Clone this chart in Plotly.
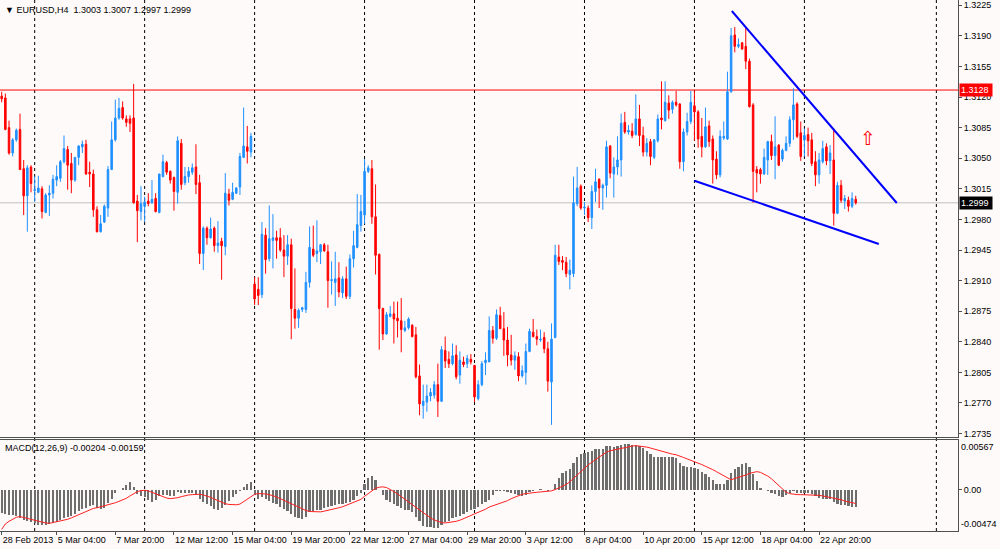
import plotly.graph_objects as go

# ---------------- data (EURUSD H4) ----------------
open_ = [1.3121,1.3119,1.3085,1.3056,1.3071,1.3083,1.3038,1.3007,1.3040,1.3013,
 1.3011,1.3015,1.2988,1.3008,1.3010,1.3025,1.3027,1.3046,1.3060,1.3044,
 1.3025,1.3051,1.3063,1.3066,1.3034,1.3032,1.2991,1.2966,1.2977,1.2993,
 1.3037,1.3071,1.3096,1.3108,1.3095,1.3095,1.3096,1.3001,1.2989,1.2995,
 1.3001,1.2999,1.3004,1.2988,1.3029,1.3045,1.3035,1.3028,1.3011,1.3067,
 1.3022,1.3029,1.3034,1.3040,1.3022,1.2941,1.2970,1.2959,1.2970,1.2950,
 1.2955,1.2949,1.3009,1.3003,1.3010,1.3017,1.3051,1.3063,1.3057,1.2906,
 1.2900,1.2894,1.2962,1.2935,1.2956,1.2959,1.2959,1.2945,1.2938,1.2951,
 1.2877,1.2867,1.2877,1.2877,1.2908,1.2946,1.2941,1.2943,1.2951,1.2943,
 1.2910,1.2908,1.2913,1.2896,1.2912,1.2892,1.2935,1.2948,1.2973,1.2985,
 1.3035,1.3038,1.2983,1.2940,1.2878,1.2849,1.2869,1.2872,1.2867,1.2864,
 1.2853,1.2856,1.2859,1.2848,1.2801,1.2767,1.2771,1.2778,1.2779,1.2791,
 1.2772,1.2830,1.2820,1.2815,1.2825,1.2802,1.2817,1.2815,1.2820,1.2813,
 1.2775,1.2791,1.2816,1.2817,1.2853,1.2844,1.2870,1.2855,1.2842,1.2825,
 1.2819,1.2823,1.2801,1.2805,1.2829,1.2851,1.2846,1.2842,1.2845,1.2832,
 1.2794,1.2845,1.2937,1.2933,1.2931,1.2917,1.2918,1.2998,1.3018,1.2993,
 1.2993,1.2982,1.3012,1.3026,1.3016,1.3019,1.3064,1.3032,1.3040,1.3048,
 1.3091,1.3080,1.3081,1.3077,1.3095,1.3076,1.3057,1.3069,1.3051,1.3070,
 1.3096,1.3093,1.3113,1.3106,1.3114,1.3112,1.3046,1.3080,1.3092,1.3110,
 1.3103,1.3075,1.3063,1.3087,1.3072,1.3049,1.3031,1.3073,1.3072,1.3126,
 1.3191,1.3178,1.3182,1.3178,1.3161,1.3111,1.3037,1.3037,1.3032,1.3048,
 1.3069,1.3053,1.3065,1.3049,1.3059,1.3067,1.3094,1.3112,1.3079,1.3071,
 1.3077,1.3071,1.3046,1.3031,1.3046,1.3063,1.3047,1.3048,1.2987,1.3019,
 1.3001,1.3002,1.2995,1.3003]
high = [1.3126,1.3124,1.3093,1.3073,1.3084,1.3101,1.3048,1.3042,1.3042,1.3029,
 1.3030,1.3018,1.3010,1.3019,1.3031,1.3042,1.3048,1.3076,1.3064,1.3056,
 1.3051,1.3065,1.3070,1.3071,1.3046,1.3037,1.2995,1.2985,1.2997,1.3041,
 1.3092,1.3117,1.3119,1.3115,1.3099,1.3099,1.3135,1.3008,1.3018,1.3006,
 1.3010,1.3025,1.3010,1.3032,1.3054,1.3047,1.3036,1.3029,1.3075,1.3072,
 1.3040,1.3040,1.3044,1.3066,1.3031,1.2972,1.2972,1.2982,1.2972,1.2978,
 1.2959,1.3033,1.3015,1.3022,1.3017,1.3056,1.3108,1.3087,1.3079,1.2914,
 1.2914,1.2977,1.2970,1.2996,1.2986,1.2967,1.2970,1.2962,1.2962,1.2958,
 1.2924,1.2878,1.2880,1.2920,1.2972,1.2973,1.2979,1.2952,1.2953,1.2951,
 1.2932,1.2943,1.2931,1.2915,1.2926,1.2940,1.2967,1.3009,1.3008,1.3049,
 1.3042,1.3048,1.3020,1.2941,1.2879,1.2874,1.2881,1.2886,1.2886,1.2890,
 1.2864,1.2868,1.2860,1.2857,1.2814,1.2791,1.2791,1.2787,1.2795,1.2815,
 1.2835,1.2846,1.2829,1.2838,1.2836,1.2829,1.2823,1.2825,1.2826,1.2813,
 1.2796,1.2818,1.2828,1.2869,1.2858,1.2877,1.2880,1.2874,1.2857,1.2848,
 1.2829,1.2828,1.2813,1.2838,1.2855,1.2866,1.2854,1.2854,1.2851,1.2840,
 1.2861,1.2951,1.2951,1.2938,1.2937,1.2934,1.3029,1.3040,1.3020,1.3000,
 1.2996,1.3019,1.3038,1.3027,1.3021,1.3070,1.3065,1.3051,1.3075,1.3101,
 1.3103,1.3088,1.3090,1.3123,1.3111,1.3086,1.3073,1.3072,1.3072,1.3100,
 1.3138,1.3138,1.3122,1.3116,1.3127,1.3113,1.3084,1.3102,1.3127,1.3127,
 1.3105,1.3096,1.3108,1.3093,1.3076,1.3058,1.3082,1.3092,1.3149,1.3199,
 1.3200,1.3187,1.3183,1.3199,1.3164,1.3113,1.3041,1.3039,1.3061,1.3070,
 1.3077,1.3098,1.3066,1.3061,1.3075,1.3098,1.3130,1.3114,1.3092,1.3084,
 1.3085,1.3079,1.3058,1.3056,1.3070,1.3067,1.3065,1.3082,1.3023,1.3025,
 1.3008,1.3006,1.3011,1.3007]
low = [1.3114,1.3082,1.3054,1.3052,1.3069,1.3037,1.2985,1.2966,1.3011,1.3000,
 1.3010,1.2981,1.2987,1.2984,1.3004,1.3018,1.3023,1.3044,1.3014,1.3010,
 1.3023,1.3042,1.3056,1.3031,1.3017,1.2983,1.2965,1.2965,1.2976,1.2983,
 1.3037,1.3069,1.3094,1.3094,1.3086,1.3080,1.2998,1.2954,1.2979,1.2977,
 1.2995,1.2998,1.2988,1.2987,1.3028,1.3031,1.3021,1.2990,1.2998,1.3014,
 1.3019,1.3022,1.3031,1.3009,1.2929,1.2922,1.2951,1.2958,1.2943,1.2942,
 1.2911,1.2939,1.2996,1.3002,1.3009,1.3008,1.3050,1.3044,1.3051,1.2882,
 1.2882,1.2890,1.2918,1.2932,1.2924,1.2935,1.2943,1.2914,1.2928,1.2843,
 1.2855,1.2856,1.2874,1.2873,1.2902,1.2937,1.2931,1.2929,1.2943,1.2879,
 1.2894,1.2881,1.2891,1.2890,1.2889,1.2889,1.2925,1.2947,1.2966,1.2975,
 1.3033,1.2975,1.2917,1.2831,1.2842,1.2848,1.2868,1.2838,1.2845,1.2828,
 1.2851,1.2854,1.2845,1.2798,1.2756,1.2752,1.2760,1.2772,1.2775,1.2754,
 1.2771,1.2810,1.2810,1.2813,1.2797,1.2792,1.2811,1.2810,1.2814,1.2771,
 1.2773,1.2789,1.2802,1.2817,1.2838,1.2842,1.2855,1.2824,1.2812,1.2813,
 1.2808,1.2795,1.2799,1.2791,1.2828,1.2845,1.2836,1.2840,1.2827,1.2783,
 1.2745,1.2844,1.2928,1.2922,1.2914,1.2900,1.2914,1.2995,1.2991,1.2985,
 1.2977,1.2969,1.3000,1.2993,1.2991,1.3005,1.3027,1.3005,1.3031,1.3029,
 1.3078,1.3077,1.3073,1.3076,1.3064,1.3052,1.3052,1.3042,1.3049,1.3068,
 1.3083,1.3092,1.3095,1.3101,1.3109,1.3038,1.3035,1.3076,1.3089,1.3070,
 1.3062,1.3051,1.3062,1.3063,1.3021,1.3026,1.3028,1.3071,1.3071,1.3125,
 1.3171,1.3176,1.3174,1.3152,1.3108,1.2999,1.3011,1.3021,1.3031,1.3031,
 1.3048,1.3026,1.3041,1.3046,1.3058,1.3063,1.3071,1.3073,1.3047,1.3052,
 1.3052,1.3041,1.3018,1.3021,1.3044,1.3042,1.3032,1.2973,1.2986,1.2999,
 1.2992,1.2989,1.2993,1.2997]
close = [1.3118,1.3083,1.3056,1.3071,1.3082,1.3037,1.3007,1.3039,1.3021,1.3014,
 1.3016,1.2989,1.3008,1.3010,1.3026,1.3029,1.3046,1.3061,1.3042,1.3025,
 1.3051,1.3064,1.3066,1.3032,1.3032,1.2991,1.2966,1.2975,1.2995,1.3037,
 1.3071,1.3096,1.3107,1.3096,1.3091,1.3090,1.2999,1.2990,1.2998,1.3000,
 1.2998,1.3003,1.2989,1.3032,1.3046,1.3034,1.3025,1.3012,1.3070,1.3020,
 1.3029,1.3035,1.3039,1.3020,1.2941,1.2970,1.2959,1.2969,1.2950,1.2953,
 1.2950,1.3010,1.3002,1.3011,1.3016,1.3052,1.3064,1.3058,1.3075,1.2889,
 1.2893,1.2963,1.2934,1.2958,1.2959,1.2956,1.2945,1.2938,1.2951,1.2878,
 1.2867,1.2876,1.2879,1.2908,1.2948,1.2939,1.2944,1.2951,1.2944,1.2910,
 1.2911,1.2912,1.2897,1.2912,1.2892,1.2935,1.2950,1.2974,1.2989,1.3035,
 1.3039,1.2983,1.2939,1.2878,1.2849,1.2871,1.2872,1.2866,1.2864,1.2854,
 1.2856,1.2866,1.2846,1.2800,1.2769,1.2772,1.2778,1.2782,1.2791,1.2772,
 1.2831,1.2818,1.2815,1.2824,1.2800,1.2819,1.2814,1.2821,1.2817,1.2777,
 1.2791,1.2815,1.2819,1.2853,1.2844,1.2871,1.2855,1.2842,1.2825,1.2819,
 1.2824,1.2801,1.2807,1.2829,1.2852,1.2846,1.2843,1.2843,1.2832,1.2795,
 1.2843,1.2939,1.2932,1.2931,1.2918,1.2922,1.2999,1.3016,1.2993,1.2994,
 1.2982,1.3012,1.3023,1.3016,1.3019,1.3063,1.3033,1.3040,1.3048,1.3090,
 1.3080,1.3082,1.3076,1.3095,1.3076,1.3057,1.3067,1.3052,1.3071,1.3095,
 1.3094,1.3114,1.3105,1.3114,1.3111,1.3046,1.3080,1.3092,1.3114,1.3103,
 1.3072,1.3063,1.3086,1.3069,1.3048,1.3031,1.3075,1.3075,1.3126,1.3190,
 1.3178,1.3180,1.3175,1.3161,1.3109,1.3035,1.3033,1.3032,1.3051,1.3069,
 1.3053,1.3063,1.3042,1.3059,1.3067,1.3094,1.3111,1.3075,1.3052,1.3076,
 1.3070,1.3044,1.3031,1.3048,1.3061,1.3047,1.3056,1.2987,1.3019,1.3002,
 1.3004,1.2995,1.3004,1.2999]

macd_main = [-0.00270,-0.00278,-0.00286,-0.00286,-0.00297,-0.00324,-0.00347,-0.00363,-0.00374,-0.00386,
 -0.00401,-0.00409,-0.00409,-0.00394,-0.00386,-0.00371,-0.00347,-0.00324,-0.00309,-0.00297,
 -0.00278,-0.00247,-0.00224,-0.00208,-0.00193,-0.00181,-0.00208,-0.00224,-0.00208,-0.00154,
 -0.00104,-0.00039,-0.00008,0.00023,0.00050,0.00081,0.00031,-0.00046,-0.00077,-0.00085,
 -0.00116,-0.00143,-0.00124,-0.00077,-0.00066,-0.00066,-0.00077,-0.00069,-0.00031,-0.00035,
 -0.00039,-0.00039,-0.00039,-0.00046,-0.00104,-0.00143,-0.00170,-0.00193,-0.00220,-0.00232,
 -0.00208,-0.00181,-0.00131,-0.00085,-0.00046,-0.00015,0.00031,0.00058,0.00085,-0.00066,
 -0.00104,-0.00085,-0.00104,-0.00131,-0.00154,-0.00170,-0.00201,-0.00224,-0.00247,-0.00278,
 -0.00309,-0.00324,-0.00336,-0.00309,-0.00259,-0.00247,-0.00239,-0.00232,-0.00208,-0.00201,
 -0.00193,-0.00181,-0.00170,-0.00162,-0.00154,-0.00143,-0.00124,-0.00077,-0.00039,0.00062,
 0.00127,0.00158,0.00108,0.00000,-0.00066,-0.00124,-0.00143,-0.00162,-0.00193,-0.00208,
 -0.00232,-0.00239,-0.00259,-0.00309,-0.00363,-0.00413,-0.00425,-0.00432,-0.00440,-0.00440,
 -0.00401,-0.00374,-0.00355,-0.00324,-0.00309,-0.00297,-0.00278,-0.00259,-0.00232,-0.00220,
 -0.00201,-0.00170,-0.00143,-0.00120,-0.00058,-0.00019,-0.00015,-0.00019,-0.00027,-0.00035,
 -0.00046,-0.00058,-0.00073,-0.00058,-0.00027,-0.00019,-0.00008,0.00012,-0.00008,-0.00019,
 -0.00008,0.00058,0.00135,0.00185,0.00212,0.00232,0.00301,0.00367,0.00405,0.00421,
 0.00425,0.00436,0.00459,0.00463,0.00463,0.00494,0.00494,0.00486,0.00494,0.00513,
 0.00521,0.00521,0.00513,0.00506,0.00494,0.00475,0.00444,0.00405,0.00378,0.00371,
 0.00371,0.00371,0.00371,0.00371,0.00359,0.00301,0.00274,0.00262,0.00262,0.00251,
 0.00235,0.00197,0.00174,0.00147,0.00108,0.00069,0.00058,0.00069,0.00108,0.00185,
 0.00232,0.00262,0.00293,0.00301,0.00262,0.00174,0.00097,0.00019,-0.00008,-0.00019,
 -0.00035,-0.00046,-0.00073,-0.00085,-0.00066,-0.00039,-0.00015,-0.00035,-0.00039,-0.00039,
 -0.00039,-0.00046,-0.00073,-0.00097,-0.00104,-0.00104,-0.00104,-0.00143,-0.00162,-0.00174,
 -0.00181,-0.00190,-0.00198,-0.00204]

macd_signal = [-0.00455,-0.00394,-0.00363,-0.00336,-0.00317,-0.00309,-0.00317,-0.00328,-0.00340,-0.00351,
 -0.00363,-0.00374,-0.00382,-0.00386,-0.00378,-0.00371,-0.00359,-0.00351,-0.00340,-0.00324,
 -0.00305,-0.00286,-0.00266,-0.00247,-0.00232,-0.00216,-0.00208,-0.00197,-0.00189,-0.00178,
 -0.00166,-0.00151,-0.00135,-0.00120,-0.00100,-0.00073,-0.00046,-0.00023,-0.00012,-0.00008,
 -0.00015,-0.00031,-0.00046,-0.00066,-0.00081,-0.00097,-0.00104,-0.00100,-0.00093,-0.00081,
 -0.00069,-0.00062,-0.00058,-0.00054,-0.00054,-0.00062,-0.00073,-0.00089,-0.00108,-0.00127,
 -0.00147,-0.00162,-0.00170,-0.00174,-0.00174,-0.00166,-0.00139,-0.00108,-0.00077,-0.00054,
 -0.00046,-0.00046,-0.00050,-0.00058,-0.00069,-0.00085,-0.00104,-0.00124,-0.00143,-0.00166,
 -0.00185,-0.00205,-0.00224,-0.00239,-0.00251,-0.00255,-0.00259,-0.00255,-0.00247,-0.00239,
 -0.00232,-0.00220,-0.00208,-0.00197,-0.00181,-0.00166,-0.00147,-0.00127,-0.00112,-0.00077,
 -0.00046,-0.00012,0.00015,0.00027,0.00031,0.00023,0.00004,-0.00023,-0.00050,-0.00081,
 -0.00112,-0.00143,-0.00178,-0.00208,-0.00239,-0.00270,-0.00297,-0.00324,-0.00347,-0.00367,
 -0.00378,-0.00382,-0.00378,-0.00371,-0.00363,-0.00351,-0.00336,-0.00317,-0.00297,-0.00278,
 -0.00263,-0.00245,-0.00225,-0.00200,-0.00185,-0.00173,-0.00160,-0.00143,-0.00127,-0.00104,
 -0.00089,-0.00066,-0.00054,-0.00046,-0.00039,-0.00035,-0.00031,-0.00027,-0.00023,-0.00019,
 -0.00015,0.00000,0.00019,0.00042,0.00058,0.00089,0.00127,0.00166,0.00212,0.00251,
 0.00282,0.00313,0.00340,0.00371,0.00398,0.00428,0.00444,0.00455,0.00463,0.00471,
 0.00479,0.00490,0.00498,0.00502,0.00498,0.00494,0.00486,0.00475,0.00463,0.00448,
 0.00436,0.00425,0.00413,0.00405,0.00398,0.00378,0.00367,0.00351,0.00336,0.00320,
 0.00305,0.00286,0.00266,0.00251,0.00228,0.00205,0.00181,0.00158,0.00127,0.00112,
 0.00127,0.00139,0.00151,0.00166,0.00185,0.00197,0.00205,0.00197,0.00178,0.00154,
 0.00124,0.00085,0.00042,0.00000,-0.00031,-0.00046,-0.00054,-0.00058,-0.00058,-0.00058,
 -0.00058,-0.00058,-0.00062,-0.00066,-0.00073,-0.00081,-0.00085,-0.00093,-0.00100,-0.00116,
 -0.00131,-0.00142,-0.00150,-0.00159]

# time-axis labels (bar index -> label)
time_label_bars = [0, 15, 31, 47, 63, 79, 95, 111, 127, 143, 159, 175, 191, 207, 223]
time_labels = ["28 Feb 2013", "5 Mar 04:00", "7 Mar 20:00", "12 Mar 12:00", "15 Mar 04:00",
               "19 Mar 20:00", "22 Mar 12:00", "27 Mar 04:00", "29 Mar 20:00", "3 Apr 12:00",
               "8 Apr 04:00", "10 Apr 20:00", "15 Apr 12:00", "18 Apr 04:00", "22 Apr 20:00"]
separator_bars = [9, 39, 69, 99, 129, 159, 189, 219, 255]
price_ticks = [1.3225, 1.3190, 1.3155, 1.3120, 1.3085, 1.3050, 1.3015, 1.2980,
               1.2945, 1.2910, 1.2875, 1.2840, 1.2805, 1.2770, 1.2735]
macd_scale = [-0.00474, 0.00, 0.00567]
ask_line = 1.3128
bid_line = 1.2999
# trend lines (bar index, price)
upper_trend = [(199.2, 1.32184), (244.2, 1.29988)]
lower_trend = [(189.0, 1.30243), (239.3, 1.29519)]
arrow_point = (236.3, 1.3071)

bars = list(range(len(close)))

FONT = "Liberation Sans, Arial, sans-serif"
BG = "#fffafa"
AXC = "#505050"

fig = go.Figure()

fig.add_trace(go.Candlestick(
    x=bars, open=open_, high=high, low=low, close=close,
    increasing=dict(line=dict(color="#1e90ff", width=1), fillcolor="#1e90ff"),
    decreasing=dict(line=dict(color="#ff0000", width=1), fillcolor="#ff0000"),
    whiskerwidth=0, xaxis="x", yaxis="y", showlegend=False, hoverinfo="skip"))

fig.add_trace(go.Bar(
    x=bars, y=macd_main, marker=dict(color="#6e6e6e", line=dict(width=0)),
    width=0.6, xaxis="x2", yaxis="y2", showlegend=False, hoverinfo="skip"))

fig.add_trace(go.Scatter(
    x=bars, y=macd_signal, mode="lines", line=dict(color="#ff2020", width=1),
    xaxis="x2", yaxis="y2", showlegend=False, hoverinfo="skip"))

# red up arrow object
fig.add_trace(go.Scatter(
    x=[arrow_point[0]], y=[arrow_point[1]], mode="text", text=["⇧"],
    textfont=dict(color="#ff0000", size=19, family="DejaVu Sans"),
    xaxis="x", yaxis="y", showlegend=False, hoverinfo="skip"))

shapes = []
for b in separator_bars:
    shapes.append(dict(type="line", xref="x", yref="paper", x0=b, x1=b, y0=0, y1=1,
                       line=dict(color="#000000", width=1, dash="3px,3px"), layer="below"))
shapes.append(dict(type="line", xref="paper", yref="y", x0=0, x1=0.958, y0=ask_line, y1=ask_line,
                   line=dict(color="#ff0000", width=1), layer="below"))
shapes.append(dict(type="line", xref="paper", yref="y", x0=0, x1=0.958, y0=bid_line, y1=bid_line,
                   line=dict(color="#c0c0c0", width=1), layer="below"))
for ln in (upper_trend, lower_trend):
    shapes.append(dict(type="line", xref="x", yref="y", x0=ln[0][0], y0=ln[0][1],
                       x1=ln[1][0], y1=ln[1][1], line=dict(color="#0000ff", width=2)))

annotations = [
    dict(xref="paper", yref="paper", x=0.003, y=1 - 3/531, xanchor="left", yanchor="top",
         text="▼ EURUSD,H4  1.3003 1.3007 1.2997 1.2999", showarrow=False,
         font=dict(family=FONT, size=9, color="#000000")),
    dict(xref="paper", yref="paper", x=0.003, y=1 - 441/531, xanchor="left", yanchor="top",
         text="MACD(12,26,9) -0.00204 -0.00159", showarrow=False,
         font=dict(family=FONT, size=9, color="#000000")),
    dict(xref="paper", yref="y", x=0.959, y=ask_line, xanchor="left", yanchor="middle",
         text="1.3128 ", showarrow=False, bgcolor="#ff0000", borderpad=1,
         font=dict(family=FONT, size=9, color="#ffffff")),
    dict(xref="paper", yref="y", x=0.959, y=bid_line, xanchor="left", yanchor="middle",
         text="1.2999 ", showarrow=False, bgcolor="#000000", borderpad=1,
         font=dict(family=FONT, size=9, color="#ffffff")),
    dict(xref="paper", yref="y2", x=0.959, y=macd_scale[2], xanchor="left", yanchor="top",
         text=f"{macd_scale[2]:.5f}", showarrow=False,
         font=dict(family=FONT, size=9, color="#000000")),
    dict(xref="paper", yref="y2", x=0.959, y=macd_scale[0], xanchor="left", yanchor="bottom",
         text=f"{macd_scale[0]:.5f}", showarrow=False,
         font=dict(family=FONT, size=9, color="#000000")),
]

fig.update_layout(
    width=1000, height=549,
    margin=dict(l=0, r=0, t=0, b=18, autoexpand=False),
    paper_bgcolor=BG, plot_bgcolor=BG,
    showlegend=False, bargap=0,
    boxgap=0.4,
    shapes=shapes, annotations=annotations,
    xaxis=dict(domain=[0, 0.958], range=[-0.46, 260.9], anchor="y", matches="x2",
               showticklabels=False, showgrid=False, zeroline=False, automargin=False,
               showline=True, linecolor=AXC, linewidth=1, ticks="",
               rangeslider=dict(visible=False)),
    yaxis=dict(domain=[94/531, 1], range=[1.27311, 1.3231], anchor="x", side="right",
               tickvals=price_ticks, ticktext=[f"{v:.4f}" for v in price_ticks],
               ticks="outside", ticklen=3, tickcolor=AXC, automargin=False,
               showgrid=False, zeroline=False, showline=True, linecolor=AXC, linewidth=1,
               tickfont=dict(family=FONT, size=9, color="#000000")),
    xaxis2=dict(domain=[0, 0.958], range=[-0.46, 260.9], anchor="y2",
                tickvals=time_label_bars, ticktext=time_labels, tickangle=0,
                ticklabelposition="outside right", ticks="outside", ticklen=3, tickcolor=AXC,
                showgrid=False, zeroline=False, showline=True, mirror=True, automargin=False,
                linecolor=AXC, linewidth=1,
                tickfont=dict(family=FONT, size=9, color="#000000")),
    yaxis2=dict(domain=[0, 91/531], range=[macd_scale[0], macd_scale[2]], anchor="x2", side="right",
                tickvals=[macd_scale[1]], ticktext=["0.00"], automargin=False,
                ticks="outside", ticklen=3, tickcolor=AXC,
                showgrid=False, zeroline=False, showline=True, linecolor=AXC, linewidth=1,
                tickfont=dict(family=FONT, size=9, color="#000000")),
)

fig.write_html("out.html",
               config={"displayModeBar": False, "staticPlot": True},
               post_script="document.body.style.margin='0';document.body.style.padding='0';"
                           "document.body.style.overflow='hidden';")
